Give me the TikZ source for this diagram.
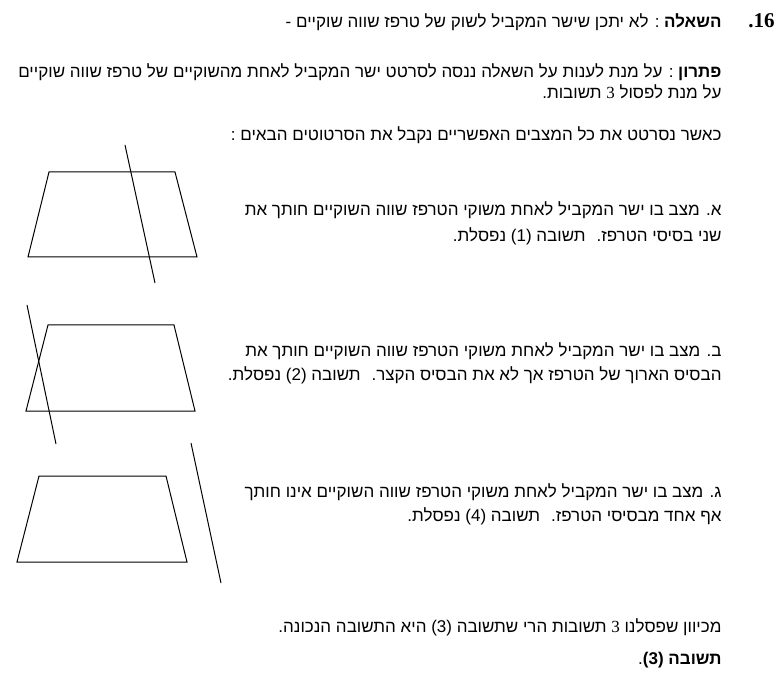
\documentclass[tikz,border=0pt]{standalone}
\usepackage{fontspec}
\setmainfont{Liberation Serif}
\newfontfamily\hebfont[Script=Hebrew]{Liberation Sans}
\newcommand\numtxt[1]{\beginL{\rmfamily #1}\endL{}}
\newcommand\anstxt[1]{\beginL(#1)\endL{}}
\TeXXeTstate=1

\begin{document}
\begin{tikzpicture}[x=1pt,y=-1pt,line width=1pt,
  heb/.style={anchor=base east,inner sep=0pt,font=\hebfont\fontsize{17}{20}\selectfont}]
\useasboundingbox (0,0) rectangle (782,676);

%question and solution
\node [anchor=base east,inner sep=0pt,font=\bfseries\fontsize{21}{24}\selectfont] (num) at (775,28) {\beginR\beginL16\endL.\endR};
\node [heb] (question) at (722,28) {\beginR\textbf{השאלה} : לא יתכן שישר המקביל לשוק של טרפז שווה שוקיים -\endR};
\node [heb] (sol1) at (722,78) {\beginR\textbf{פתרון} : על מנת לענות על השאלה ננסה לסרטט ישר המקביל לאחת מהשוקיים של טרפז שווה שוקיים\endR};
\node [heb] (sol2) at (722,99) {\beginR על מנת לפסול \numtxt{3} תשובות.\endR};
\node [heb] (intro) at (722,141) {\beginR כאשר נסרטט את כל המצבים האפשריים נקבל את הסרטוטים הבאים :\endR};

%case a
\draw (49,172) -- (175,172) -- (197,257) -- (28,257) -- cycle ;
\draw (125,145) -- (155,283) ;
\node [heb] (a1) at (722,216) {\beginR א. מצב בו ישר המקביל לאחת משוקי הטרפז שווה השוקיים חותך את\endR};
\node [heb] (a2) at (722,242) {\beginR שני בסיסי הטרפז.~ תשובה \anstxt{1} נפסלת.\endR};

%case b
\draw (48,325) -- (174,325) -- (195,411) -- (26,411) -- cycle ;
\draw (27,305) -- (56,444) ;
\node [heb] (b1) at (722,356) {\beginR ב. מצב בו ישר המקביל לאחת משוקי הטרפז שווה השוקיים חותך את\endR};
\node [heb] (b2) at (722,381) {\beginR הבסיס הארוך של הטרפז אך לא את הבסיס הקצר.~ תשובה \anstxt{2} נפסלת.\endR};

%case c
\draw (39,476) -- (166,476) -- (187,562) -- (17,562) -- cycle ;
\draw (191,443) -- (221,583) ;
\node [heb] (c1) at (722,497) {\beginR ג. מצב בו ישר המקביל לאחת משוקי הטרפז שווה השוקיים אינו חותך\endR};
\node [heb] (c2) at (722,521) {\beginR אף אחד מבסיסי הטרפז.~ תשובה \anstxt{4} נפסלת.\endR};

%conclusion
\node [heb] (concl) at (722,632) {\beginR מכיוון שפסלנו \numtxt{3} תשובות הרי שתשובה \anstxt{3} היא התשובה הנכונה.\endR};
\node [heb] (answer) at (722,664) {\beginR\textbf{תשובה \anstxt{3}}.\endR};

\end{tikzpicture}
\end{document}
